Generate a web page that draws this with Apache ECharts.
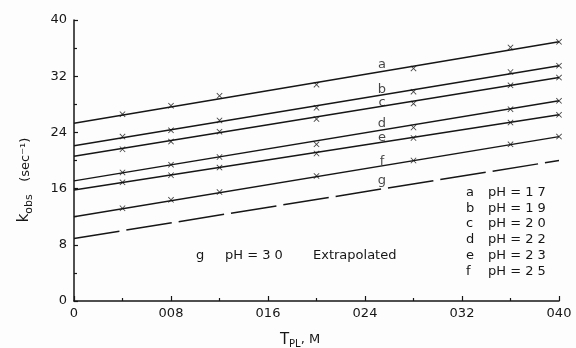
<!DOCTYPE html>
<html><head><meta charset="utf-8">
<script src="https://cdn.jsdelivr.net/npm/echarts@6/dist/echarts.min.js"></script>
<style>html,body{margin:0;padding:0;background:#fdfdfd}#c{width:576px;height:348px}</style>
</head><body><div id="c"></div>
<script>
// T_PL (M) at which k_obs was measured
const xPoints = [0.004, 0.008, 0.012, 0.020, 0.028, 0.036, 0.040];
const lineX = [0, 0.040];
const curveNames = ['a','b','c','d','e','f','g'];
const pHLabels = ['pH = 1 7','pH = 1 9','pH = 2 0','pH = 2 2','pH = 2 3','pH = 2 5'];
// measured k_obs points (sec^-1)
const ptsA = [2.66, 2.78, 2.92, 3.08, 3.31, 3.61, 3.69];
const ptsB = [2.34, 2.43, 2.57, 2.75, 2.98, 3.26, 3.35];
const ptsC = [2.16, 2.27, 2.41, 2.59, 2.81, 3.07, 3.18];
const ptsD = [1.83, 1.94, 2.05, 2.23, 2.47, 2.73, 2.85];
const ptsE = [1.69, 1.79, 1.90, 2.10, 2.32, 2.54, 2.65];
const ptsF = [1.32, 1.44, 1.55, 1.78, 2.00, 2.23, 2.34];
// fitted lines: [value at T=0, value at T=0.040]
const fitA = [2.53, 3.69];
const fitB = [2.21, 3.35];
const fitC = [2.06, 3.18];
const fitD = [1.71, 2.85];
const fitE = [1.58, 2.65];
const fitF = [1.20, 2.34];
const fitG = [0.89, 2.00];
// curve letter label positions [x, y]
const letterX = 0.0254;
const letterY = [3.37, 3.01, 2.82, 2.52, 2.32, 1.99, 1.71];
const yTicks = ['0','8','16','24','32','40'];

const INK = '#161616';
const FONT = '"DejaVu Sans", sans-serif';
const xSym = 'path://M0,1L1,0L5,4L9,0L10,1L6,5L10,9L9,10L5,6L1,10L0,9L4,5Z';

const pts = [ptsA, ptsB, ptsC, ptsD, ptsE, ptsF];
const fits = [fitA, fitB, fitC, fitD, fitE, fitF, fitG];
const series = [];
fits.forEach((f, i) => {
  series.push({
    type: 'line', data: lineX.map((x, j) => [x, f[j]]), symbol: 'none', silent: true,
    lineStyle: {color: INK, width: 1.5, type: i === 6 ? [46, 7] : 'solid'}, z: 2
  });
});
pts.forEach(p => {
  series.push({
    type: 'scatter', data: xPoints.map((x, j) => [x, p[j]]), symbol: xSym, symbolSize: 6,
    itemStyle: {color: INK}, z: 3
  });
});
series.push({
  type: 'scatter', symbolSize: 1, itemStyle: {color: 'rgba(0,0,0,0)'},
  data: curveNames.map((n, i) => ({name: n, value: [letterX, letterY[i]]})),
  label: {show: true, position: 'inside', formatter: '{b}', color: INK, fontSize: 13, fontFamily: FONT}
});

const graphic = [];
pHLabels.forEach((t, i) => {
  const y = 194 + i * 15.8;
  graphic.push({type: 'text', left: 466, top: y - 8, style: {text: curveNames[i], fill: INK, font: '13px ' + FONT}});
  graphic.push({type: 'text', left: 488, top: y - 8, style: {text: t, fill: INK, font: '13px ' + FONT}});
});
graphic.push({type: 'text', left: 196, top: 249, style: {text: 'g', fill: INK, font: '13px ' + FONT}});
graphic.push({type: 'text', left: 225, top: 249, style: {text: 'pH = 3 0', fill: INK, font: '13px ' + FONT}});
graphic.push({type: 'text', left: 313, top: 249, style: {text: 'Extrapolated', fill: INK, font: '13px ' + FONT}});
graphic.push({type: 'text', x: 26, y: 180, rotation: Math.PI / 2,
  style: {text: '{k|k}{s|obs}{n|   (sec⁻¹)}', align: 'center', verticalAlign: 'middle', fill: INK,
    rich: {k: {fontSize: 15, fontFamily: FONT, fill: INK, verticalAlign: 'top', lineHeight: 18},
           s: {fontSize: 11, fontFamily: FONT, fill: INK, verticalAlign: 'bottom', lineHeight: 18, padding: [8, 0, 0, 0]},
           n: {fontSize: 13, fontFamily: FONT, fill: INK, lineHeight: 18}}}});
graphic.push({type: 'text', x: 300, y: 340,
  style: {text: '{k|T}{s|PL}{n|, M}', align: 'center', verticalAlign: 'middle', fill: INK,
    rich: {k: {fontSize: 15, fontFamily: FONT, fill: INK, lineHeight: 18},
           s: {fontSize: 10, fontFamily: FONT, fill: INK, lineHeight: 18, padding: [8, 0, 0, 0]},
           n: {fontSize: 13, fontFamily: FONT, fill: INK, lineHeight: 18}}}});

const chart = echarts.init(document.getElementById('c'));
chart.setOption({
  animation: false,
  backgroundColor: '#fdfdfd',
  grid: {left: 74, right: 17, top: 20, bottom: 47},
  xAxis: {
    type: 'value', min: 0, max: 0.040, interval: 0.008,
    axisLine: {lineStyle: {color: INK, width: 1.5}},
    axisTick: {inside: true, length: 5, lineStyle: {color: INK, width: 1.2}},
    minorTick: {show: true, splitNumber: 2, length: 3, lineStyle: {color: INK, width: 1.2}},
    splitLine: {show: false},
    axisLabel: {color: INK, fontSize: 13, fontFamily: FONT, margin: 6,
      formatter: v => v === 0 ? '0' : v.toFixed(3).slice(2)}
  },
  yAxis: {
    type: 'value', min: 0, max: 4.0, interval: 0.8,
    axisLine: {lineStyle: {color: INK, width: 1.5}},
    axisTick: {inside: true, length: 4, lineStyle: {color: INK, width: 1.2}},
    minorTick: {show: true, splitNumber: 2, length: 3, lineStyle: {color: INK, width: 1.2}},
    splitLine: {show: false},
    axisLabel: {color: INK, fontSize: 13, fontFamily: FONT, margin: 7,
      formatter: v => yTicks[Math.round(v / 0.8)]}
  },
  graphic: graphic,
  series: series
});
</script></body></html>
